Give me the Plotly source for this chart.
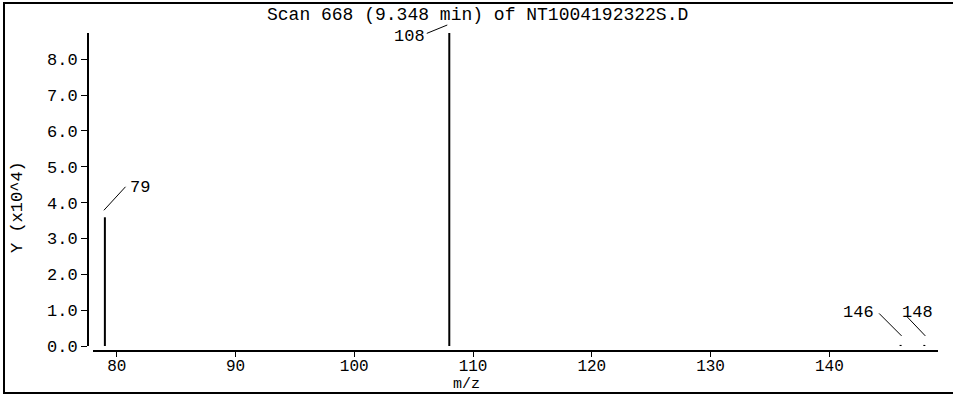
import plotly.graph_objects as go

# Data (m/z and abundance in counts)
mz = [79, 108, 146, 148]
abundance = [35900, 87300, 300, 300]
peak_labels = ["79", "108", "146", "148"]
x_ticks = [80, 90, 100, 110, 120, 130, 140]
y_ticks = [0, 1, 2, 3, 4, 5, 6, 7, 8]

title_text = "Scan 668 (9.348 min) of NT1004192322S.D"
FONT = "Liberation Mono"

W, H = 953, 396
L, R, T, B = 88, 15, 33, 45
pw = W - L - R
ph = H - T - B

scale = 1e4
ys = [a / scale for a in abundance]

# stick spectrum
xs_line, ys_line = [], []
for m, v in zip(mz, ys):
    xs_line += [m, m, None]
    ys_line += [0, v, None]

fig = go.Figure()
fig.add_trace(go.Scatter(x=xs_line, y=ys_line, mode="lines",
                         line=dict(color="black", width=2),
                         hoverinfo="skip", showlegend=False))

# label placement (pixels relative to the peak top): text xshift, yshift
text_pos = {"79": (35, 30), "108": (-40, -3), "146": (-42, 32), "148": (-7, 32)}
# leader lines: tip xshift, yshift, tail ax, ay
leader = {"79": (-1, 7, 23, -25), "108": (-2, 8, -22, 9),
          "146": (1, 9, -24, -24), "148": (1, 9, -20, -21)}

annotations = []
for m, v, lab in zip(mz, ys, peak_labels):
    tx, ty = text_pos[lab]
    annotations.append(dict(x=m, y=v, text=lab, showarrow=False,
                            xshift=tx, yshift=ty, xanchor="center", yanchor="middle",
                            font=dict(family=FONT, size=17, color="black")))
    lx, ly, ax, ay = leader[lab]
    annotations.append(dict(x=m, y=v, text="", showarrow=True, arrowhead=0,
                            arrowwidth=1, arrowcolor="black", ax=ax, ay=ay,
                            xshift=lx, yshift=ly, standoff=0, startstandoff=0))

# title and axis titles
annotations.append(dict(text=title_text, xref="paper", yref="paper",
                        x=(477 - L) / pw, y=(H - B - 15) / ph, showarrow=False,
                        xanchor="center", yanchor="middle",
                        font=dict(family=FONT, size=18, color="black")))
annotations.append(dict(text="m/z", xref="paper", yref="paper",
                        x=(466 - L) / pw, y=(H - B - 384) / ph, showarrow=False,
                        xanchor="center", yanchor="middle",
                        font=dict(family=FONT, size=15, color="black")))
annotations.append(dict(text="Y (x10^4)", xref="paper", yref="paper",
                        x=(17 - L) / pw, y=(H - B - 207) / ph, showarrow=False,
                        textangle=-90, xanchor="center", yanchor="middle",
                        font=dict(family=FONT, size=17, color="black")))

fig.update_layout(
    width=W, height=H,
    margin=dict(l=L, r=R, t=T, b=B, pad=0),
    paper_bgcolor="white", plot_bgcolor="white",
    font=dict(family=FONT, size=17, color="black"),
    xaxis=dict(range=[78.0, 149.15], domain=[5 / pw, 1], anchor="free", position=0,
               tickvals=x_ticks, ticks="outside", ticklen=5, tickwidth=1,
               ticklabelstandoff=-5, tickfont=dict(family=FONT, size=16),
               tickcolor="black", showline=True, linecolor="black", linewidth=2,
               showgrid=False, zeroline=False),
    yaxis=dict(range=[0, max(ys)], domain=[5 / ph, 1], anchor="free", position=0,
               tickvals=y_ticks, tickformat=".1f", ticks="outside", ticklen=6,
               tickwidth=1, tickcolor="black", showline=True, linecolor="black",
               linewidth=2, showgrid=False, zeroline=False),
    annotations=annotations,
    shapes=[dict(type="rect", xref="paper", yref="paper",
                 x0=(4 - L) / pw, x1=(965 - L) / pw,
                 y0=(H - B - 393) / ph, y1=(H - B - 3) / ph,
                 line=dict(color="black", width=2))],
)

fig.write_html("out.html", config={"displayModeBar": False},
               post_script="document.body.style.margin='0';document.body.style.overflow='hidden';")
